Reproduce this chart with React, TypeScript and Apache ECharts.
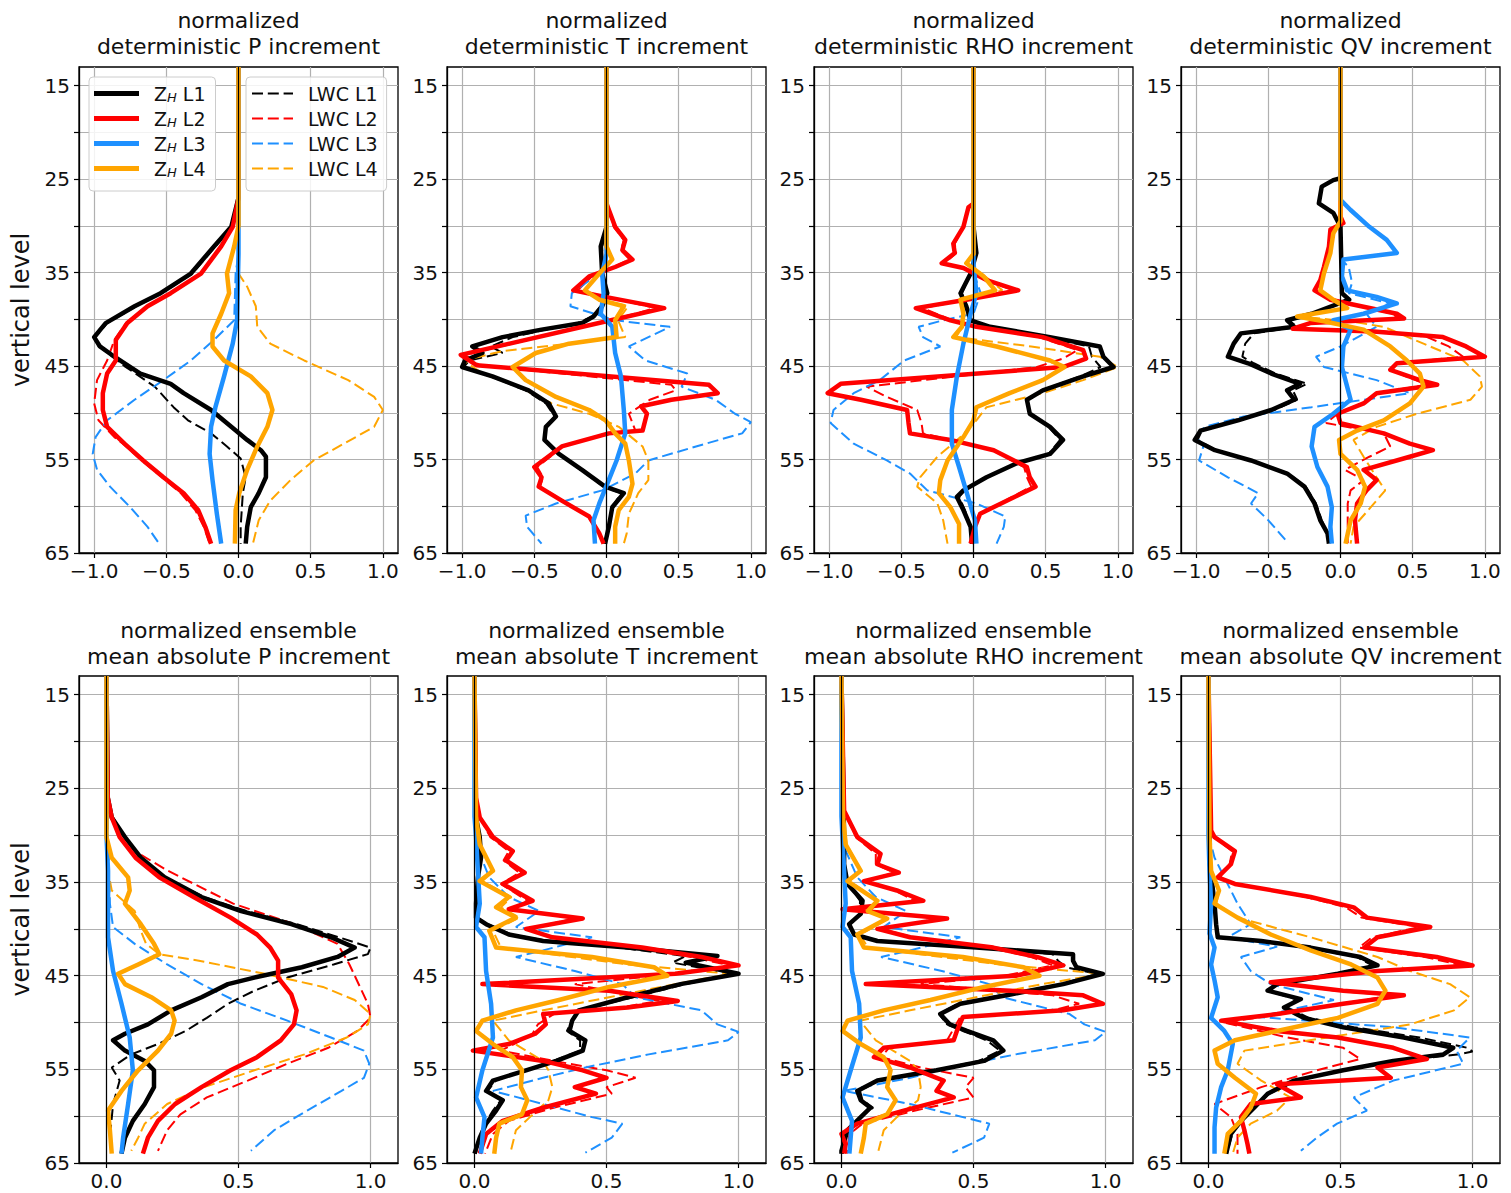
import React, { useEffect, useRef } from 'react';
import * as echarts from 'echarts';

// ---------- tick values ----------
const Y_TICKS = [15, 20, 25, 30, 35, 40, 45, 50, 55, 60, 65];
const Y_LABELS = [15, 25, 35, 45, 55, 65];
const X_TICKS_DET = [-1, -0.5, 0, 0.5, 1];
const X_TICKS_ENS = [0, 0.5, 1];

// ---------- data: [vertical level, normalized value] ----------
// deterministic P increment
const P_DET_ZH1 = [[13,0],[27,0],[30.1,-0.05],[32.2,-0.17],[35.1,-0.33],[37.2,-0.54],[38.6,-0.72],[40.4,-0.92],[41.9,-1.0],[42.9,-0.96],[44,-0.86],[45.8,-0.68],[46.9,-0.47],[47.9,-0.38],[49.7,-0.19],[51.5,-0.05],[52.9,0.06],[54,0.155],[54.7,0.19],[56.9,0.19],[58.6,0.14],[60.1,0.085],[62.2,0.06],[64,0.05]];
const P_DET_ZH2 = [[13,0],[27,0],[30.1,-0.04],[32.2,-0.12],[35.1,-0.26],[37.2,-0.47],[38.6,-0.63],[40.4,-0.77],[42.2,-0.85],[44.4,-0.85],[45.8,-0.91],[47.9,-0.94],[49.7,-0.94],[51.5,-0.91],[53.3,-0.79],[55.1,-0.66],[56.9,-0.52],[58.6,-0.38],[60.4,-0.28],[62.2,-0.23],[64,-0.19]];
const P_DET_ZH3 = [[13,0],[33,0],[40.1,-0.01],[42.6,-0.04],[46.1,-0.1],[49.4,-0.16],[51.5,-0.19],[54.4,-0.2],[57.2,-0.18],[60.8,-0.15],[64,-0.12]];
const P_DET_ZH4 = [[13,0],[30,0],[32.2,-0.03],[35.1,-0.08],[37.2,-0.065],[39.4,-0.12],[41.5,-0.18],[42.9,-0.18],[44.4,-0.1],[46.1,0.085],[47.9,0.2],[49.7,0.235],[51.5,0.2],[53.6,0.13],[56.1,0.06],[58.6,0.005],[60.4,-0.02],[64,-0.025]];
const P_DET_LWC1 = [[13,0],[27,0],[30.1,-0.05],[32.2,-0.16],[35.1,-0.32],[37.2,-0.53],[38.6,-0.71],[40.4,-0.91],[41.9,-0.99],[42.6,-0.99],[45,-0.79],[47.2,-0.58],[49.4,-0.45],[50.8,-0.35],[52.2,-0.19],[53.6,-0.08],[54.9,0.015],[56.9,0.05],[58.6,0.03],[62.2,0.015],[64,0.015]];
const P_DET_LWC2 = [[13,0],[27,0],[30.1,-0.04],[32.2,-0.12],[35.1,-0.26],[37.2,-0.47],[38.6,-0.63],[40.4,-0.78],[42.2,-0.86],[44.4,-0.91],[46.5,-0.98],[49,-1.0],[50.8,-0.97],[52.6,-0.86],[53.3,-0.8],[55.1,-0.67],[56.9,-0.53],[58.6,-0.4],[60.4,-0.3],[62.2,-0.24],[64,-0.2]];
const P_DET_LWC3 = [[13,0],[33,0],[35.1,-0.02],[40.1,-0.03],[42.2,-0.17],[44.4,-0.33],[46.5,-0.52],[48.6,-0.72],[50.8,-0.91],[52.6,-0.99],[54.4,-1.01],[56.1,-0.98],[57.9,-0.89],[60.1,-0.75],[62.2,-0.63],[64,-0.55]];
const P_DET_LWC4 = [[13,0],[33,0],[35.1,0],[36.5,0.06],[38.6,0.12],[40.8,0.13],[42.6,0.22],[44.4,0.455],[46.5,0.76],[48.3,0.94],[49.7,1.0],[51.5,0.94],[53.3,0.73],[55.1,0.52],[57.2,0.36],[59.4,0.22],[61.5,0.14],[64,0.1]];

// deterministic T increment
const T_DET_ZH1 = [[13,0],[30.1,0],[32.2,-0.04],[35.1,-0.03],[37.2,0.005],[38.6,-0.03],[39.7,-0.09],[40.4,-0.17],[41.1,-0.45],[41.9,-0.72],[42.9,-0.93],[43.6,-0.86],[44.4,-0.98],[45.1,-1.0],[46.1,-0.79],[47.6,-0.54],[49,-0.4],[50.4,-0.35],[51.5,-0.42],[52.9,-0.43],[54.4,-0.33],[56.1,-0.17],[57.9,-0.01],[58.6,0.12],[60.1,0.04],[62.2,0.016],[64,-0.01]];
const T_DET_ZH2 = [[13,0],[27.6,0],[30.1,0.06],[31.5,0.13],[32.6,0.11],[33.6,0.18],[34.4,0.06],[35.4,-0.12],[36.9,-0.23],[37.6,-0.01],[38.8,0.4],[40.2,0.0],[43.8,-1.01],[44.9,-0.9],[47,0.71],[47.9,0.77],[48.6,0.45],[49.3,0.24],[50.1,0.28],[51.9,0.25],[52.2,0.016],[53.6,-0.31],[55.8,-0.5],[56.9,-0.45],[57.9,-0.47],[59.4,-0.31],[61.1,-0.12],[62.9,-0.05],[64,-0.02]];
const T_DET_ZH3 = [[13,0],[33,0],[35.1,-0.03],[37.2,-0.02],[39.4,-0.04],[40.8,0.04],[43.6,0.06],[46.1,0.1],[49.7,0.12],[52.2,0.13],[55.1,0.07],[57.6,0.005],[59.7,-0.05],[61.5,-0.09],[64,-0.08]];
const T_DET_ZH4 = [[13,0],[32.2,0],[33.6,0.04],[35.1,-0.05],[36.9,-0.15],[37.9,-0.05],[38.6,0.12],[40.1,0.06],[41.9,0.07],[42.6,-0.26],[43.6,-0.49],[45.1,-0.65],[46.5,-0.56],[48.3,-0.35],[49.7,-0.12],[50.8,-0.007],[52.2,0.06],[53.3,0.13],[55.1,0.155],[57.6,0.18],[59,0.155],[60.4,0.085],[62.2,0.06],[64,0.06]];
const T_DET_LWC1 = [[13,0],[30.1,0],[32.2,-0.03],[35.1,-0.03],[37.2,0.0],[38.6,-0.04],[39.7,-0.1],[40.4,-0.2],[41.1,-0.42],[41.9,-0.65],[42.9,-0.8],[43.6,-0.72],[44.4,-0.95],[45.1,-0.99],[46.1,-0.8],[47.6,-0.56],[49,-0.42],[50.4,-0.36],[51.5,-0.42],[52.9,-0.42],[54.4,-0.33],[56.1,-0.18],[57.9,-0.02],[58.6,0.1],[60.1,0.04],[62.2,0.01],[64,-0.01]];
const T_DET_LWC2 = [[13,0],[27.6,0],[30.1,0.05],[31.5,0.12],[32.6,0.1],[33.6,0.16],[34.4,0.05],[35.4,-0.1],[36.9,-0.2],[37.6,0.0],[38.8,0.34],[40.2,0.0],[43.8,-0.98],[44.9,-0.88],[47,0.45],[47.6,0.48],[48.6,0.3],[50.1,0.155],[51.9,0.2],[52.2,0.0],[53.6,-0.3],[55.8,-0.48],[56.9,-0.44],[57.9,-0.46],[59.4,-0.3],[61.1,-0.12],[62.9,-0.05],[64,-0.02]];
const T_DET_LWC3 = [[13,0],[34,0],[35.4,-0.08],[37.2,-0.24],[38.6,-0.25],[40.1,0.06],[40.8,0.44],[42.9,0.155],[44.4,0.27],[45.8,0.56],[47.2,0.52],[48.6,0.755],[50.1,0.89],[51,1.0],[52.2,0.94],[53.6,0.62],[55.1,0.29],[56.5,0.2],[58.3,-0.03],[59.7,-0.35],[61,-0.56],[62.2,-0.55],[64,-0.45]];
const T_DET_LWC4 = [[13,0],[32.2,0],[33.6,0.04],[35.1,-0.05],[36.9,-0.15],[37.9,-0.04],[38.6,0.15],[40.1,0.08],[41.9,0.13],[43.4,-0.72],[44.4,-0.99],[45.8,-0.86],[47.2,-0.61],[49,-0.38],[50.1,-0.12],[51.5,0.085],[53.6,0.25],[55.1,0.29],[57.2,0.29],[58.6,0.22],[60.8,0.155],[62.9,0.14],[64,0.12]];

// deterministic RHO increment
const R_DET_ZH1 = [[13,0],[30.1,0],[32.9,0.02],[35.1,-0.02],[37.2,-0.09],[38.6,-0.05],[40.1,-0.02],[40.8,0.115],[41.9,0.53],[42.9,0.875],[44,0.9],[45.1,0.97],[46.1,0.76],[47.6,0.48],[48.6,0.37],[50.1,0.39],[51.5,0.53],[52.9,0.62],[54.4,0.53],[55.4,0.3],[56.9,0.09],[58.3,-0.07],[59,-0.115],[60.4,-0.07],[62.2,-0.02],[64,-0.01]];
const R_DET_ZH2 = [[13,0],[27.6,0],[28,-0.035],[30.1,-0.07],[31.9,-0.14],[32.9,-0.13],[34,-0.22],[34.5,-0.07],[35.8,0.09],[36.9,0.31],[37.9,-0.05],[38.8,-0.4],[40.1,-0.16],[40.8,0.02],[41.9,0.48],[43.3,0.76],[44.2,0.78],[45.1,0.62],[46.9,-0.92],[47.9,-1.01],[48.6,-0.78],[49.7,-0.46],[51.1,-0.45],[52.2,-0.44],[52.9,-0.16],[54,0.14],[55.8,0.37],[56.9,0.39],[57.9,0.43],[59.4,0.23],[60.8,0.046],[62.2,0.01],[64,-0.02]];
const R_DET_ZH3 = [[13,0],[34,0],[37.2,0.02],[39.4,-0.02],[42.6,-0.07],[46.1,-0.115],[49.7,-0.15],[53.3,-0.15],[55.8,-0.1],[58.6,-0.046],[61.5,0.01],[64,0.02]];
const R_DET_ZH4 = [[13,0],[33,0],[34,-0.05],[35.4,0.07],[36.9,0.15],[37.9,-0.09],[39.4,-0.07],[40.8,-0.08],[41.9,-0.14],[42.9,0.16],[44.4,0.53],[45.1,0.63],[46.5,0.48],[47.9,0.25],[49.4,0.02],[50.8,0],[52.6,-0.07],[55.1,-0.18],[57.2,-0.23],[58.6,-0.24],[60.1,-0.16],[61.9,-0.1],[64,-0.1]];
const R_DET_LWC1 = [[13,0],[30.1,0],[32.9,0.02],[35.1,-0.02],[37.2,-0.08],[38.6,-0.05],[40.1,-0.02],[40.8,0.1],[41.9,0.5],[42.9,0.8],[44,0.82],[45.1,0.88],[46.1,0.74],[47.6,0.47],[48.6,0.37],[50.1,0.39],[51.5,0.52],[52.9,0.6],[54.4,0.52],[55.4,0.3],[56.9,0.09],[58.3,-0.06],[59,-0.1],[60.4,-0.06],[62.2,-0.02],[64,-0.01]];
const R_DET_LWC2 = [[13,0],[27.6,0],[28,-0.03],[30.1,-0.07],[31.9,-0.13],[32.9,-0.12],[34,-0.2],[34.5,-0.06],[35.8,0.08],[36.9,0.28],[37.9,-0.05],[38.8,-0.35],[40.1,-0.15],[40.8,0.02],[41.9,0.45],[43.3,0.72],[44.2,0.62],[45.1,0.44],[47.2,-0.74],[48.3,-0.6],[49.7,-0.39],[51.1,-0.36],[52.2,-0.35],[52.9,-0.15],[54,0.13],[55.8,0.35],[56.9,0.37],[57.9,0.4],[59.4,0.22],[60.8,0.04],[62.2,0.01],[64,-0.02]];
const R_DET_LWC3 = [[13,0],[35,0],[37.2,0.05],[39.4,0.0],[40.1,-0.21],[40.8,-0.38],[41.9,-0.35],[42.9,-0.23],[44.4,-0.48],[46.5,-0.65],[47.9,-0.83],[49.7,-0.97],[51.1,-0.99],[53.3,-0.83],[55.1,-0.6],[56.5,-0.44],[58.3,-0.32],[59.7,0.02],[61.1,0.22],[62.2,0.21],[64,0.16]];
const R_DET_LWC4 = [[13,0],[33,0],[34,-0.05],[35.4,0.08],[36.9,0.2],[37.9,-0.06],[39.4,-0.07],[40.8,-0.08],[41.9,-0.12],[42.9,0.4],[44,0.875],[45.1,1.0],[46.5,0.76],[47.9,0.48],[49.4,0.09],[50.8,0.02],[52.6,-0.09],[54.7,-0.25],[56.9,-0.37],[57.9,-0.39],[59.7,-0.25],[61.5,-0.21],[64,-0.18]];

// deterministic QV increment
const Q_DET_ZH1 = [[13,0],[24.9,0],[25.1,-0.05],[25.8,-0.13],[27.6,-0.15],[28.6,-0.05],[30.1,0],[37.2,0.01],[37.9,0.06],[39.4,-0.2],[40.1,-0.37],[40.8,-0.32],[41.5,-0.69],[42.6,-0.74],[44,-0.78],[44.7,-0.64],[45.8,-0.48],[46.9,-0.28],[47.6,-0.37],[48.6,-0.32],[49.7,-0.48],[50.8,-0.71],[51.9,-0.97],[52.9,-1.01],[54,-0.87],[55.1,-0.62],[56.5,-0.37],[57.9,-0.25],[59.7,-0.18],[61.5,-0.14],[62.9,-0.09],[64,-0.08]];
const Q_DET_ZH2 = [[13,0],[29,0],[29.7,0.02],[30.4,-0.07],[32.2,-0.08],[34.4,-0.115],[35.8,-0.14],[36.9,-0.18],[37.9,-0.07],[39.4,0.39],[39.9,0.44],[40.4,-0.21],[41,-0.33],[41.3,0.23],[41.9,0.71],[42.9,0.87],[44,1.0],[44.7,0.39],[45.4,0.345],[46.5,0.55],[47,0.67],[47.9,0.25],[49,0.16],[50.1,-0.02],[51.1,0],[52.2,0.3],[53.3,0.48],[54,0.64],[54.7,0.48],[56.1,0.16],[57.2,0.25],[58.3,0.18],[59.7,0.115],[61.5,0.1],[64,0.115]];
const Q_DET_ZH3 = [[13,0],[27.2,0],[28.3,0.07],[30.1,0.2],[31.5,0.32],[32.9,0.39],[33.6,0.02],[35.4,0.01],[36.9,0.046],[37.6,0.25],[38.3,0.39],[39.4,0.16],[40.1,-0.05],[41.1,0.07],[42.9,0.02],[45.1,0.01],[47.2,0.046],[48.6,0.07],[50.1,-0.05],[51.5,-0.18],[53.6,-0.2],[55.8,-0.16],[57.9,-0.09],[60.1,-0.06],[62.2,-0.07],[64,-0.06]];
const Q_DET_ZH4 = [[13,0],[29.5,0],[30.8,-0.05],[32.9,-0.07],[35.1,-0.115],[36.9,-0.14],[37.9,-0.05],[38.8,0.046],[39.7,-0.3],[40.2,-0.115],[41.1,0.16],[42.9,0.345],[44.4,0.46],[45.8,0.55],[47.2,0.575],[49,0.48],[50.8,0.3],[51.9,0.115],[52.9,-0.01],[54.4,0],[56.1,0.115],[57.9,0.17],[59.7,0.14],[61.5,0.07],[64,0.035]];
const Q_DET_LWC1 = [[13,0],[24.9,0],[25.1,-0.05],[25.8,-0.13],[27.6,-0.15],[28.6,-0.05],[30.1,0],[37.2,0.01],[37.9,0.05],[39.4,-0.2],[40.1,-0.36],[40.8,-0.3],[41.5,-0.6],[42.6,-0.66],[44,-0.68],[44.7,-0.6],[45.8,-0.45],[46.9,-0.23],[47.6,-0.33],[48.6,-0.3],[49.7,-0.46],[50.8,-0.7],[51.9,-0.96],[52.9,-0.99],[54,-0.86],[55.1,-0.61],[56.5,-0.36],[57.9,-0.24],[59.7,-0.17],[61.5,-0.13],[62.9,-0.09],[64,-0.08]];
const Q_DET_LWC2 = [[13,0],[29,0],[29.7,0.02],[30.4,-0.06],[32.2,-0.08],[34.4,-0.11],[35.8,-0.13],[36.9,-0.17],[37.9,-0.06],[39.4,0.36],[39.9,0.4],[40.4,-0.2],[41,-0.3],[41.3,0.3],[41.9,0.6],[42.9,0.75],[44,0.85],[44.7,0.39],[45.4,0.34],[46.5,0.52],[47,0.6],[47.9,0.25],[49,0.15],[50.1,-0.02],[51.1,-0.1],[52.2,0.3],[53.6,0.345],[54.7,0.2],[56.1,0.03],[57.2,0.16],[58.3,0.07],[59.7,0.05],[61.5,0.05],[64,0.05]];
const Q_DET_LWC3 = [[13,0],[33.5,0],[34.4,0.057],[36.1,0.08],[37.2,0.057],[38.3,0.345],[39.4,0.18],[40.8,0.25],[42.9,0],[44,-0.17],[45.1,-0.115],[46.5,0.25],[47.9,0.48],[49.4,-0.2],[50.4,-0.67],[51.5,-0.94],[52.6,-1.0],[53.6,-0.95],[55.1,-0.98],[56.9,-0.78],[58.6,-0.57],[59.7,-0.62],[61.5,-0.5],[63.8,-0.37]];
const Q_DET_LWC4 = [[13,0],[29.5,0],[30.8,-0.05],[32.9,-0.07],[35.1,-0.115],[36.9,-0.14],[37.9,-0.05],[38.8,0.046],[39.7,-0.28],[40.3,0.1],[40.8,0.3],[42.6,0.575],[44.4,0.85],[46.1,0.965],[47.2,0.98],[48.6,0.9],[50.1,0.53],[51.5,0.25],[52.9,0.09],[54.7,0.16],[56.9,0.25],[58.3,0.31],[60.1,0.21],[62.2,0.09],[64,0.07]];

// ensemble mean absolute P increment
const P_ENS_ZH1 = [[13,0],[26,0.005],[28.1,0.02],[30.2,0.07],[32.4,0.13],[34.5,0.22],[36.6,0.36],[38.1,0.51],[39.5,0.7],[40.9,0.85],[42,0.94],[43,0.875],[44.1,0.74],[45.2,0.56],[45.9,0.46],[47.3,0.36],[48.7,0.245],[50.2,0.157],[51.2,0.07],[51.9,0.025],[53,0.07],[54.1,0.145],[55.1,0.18],[56.9,0.18],[58.7,0.145],[60.5,0.1],[62.3,0.07],[64,0.057]];
const P_ENS_ZH2 = [[13,0],[26,0.005],[28.1,0.02],[30.2,0.05],[32.4,0.11],[34.5,0.2],[36.6,0.33],[38.8,0.47],[40.6,0.57],[42,0.62],[43.4,0.65],[45.2,0.65],[47,0.7],[48.7,0.72],[50.2,0.71],[51.9,0.66],[53.7,0.57],[55.1,0.47],[56.9,0.36],[58.7,0.26],[60.5,0.195],[62.3,0.157],[64,0.138]];
const P_ENS_ZH3 = [[13,0],[30,0],[33.8,0.006],[40.9,0.006],[44.5,0.025],[48,0.057],[51.6,0.088],[55.1,0.1],[58.7,0.082],[62.3,0.063],[64,0.057]];
const P_ENS_ZH4 = [[13,0],[30.2,0],[32.4,0.02],[34.5,0.082],[35.9,0.088],[37.3,0.07],[39.5,0.13],[41.6,0.18],[42.7,0.2],[43.8,0.12],[44.8,0.044],[45.9,0.07],[47.3,0.17],[48.7,0.245],[49.8,0.258],[51.2,0.245],[53,0.195],[55.1,0.12],[57.3,0.057],[59.4,0.006],[61.5,0.013],[64,0.02]];
const P_ENS_LWC1 = [[13,0],[26,0.005],[28.1,0.02],[30.2,0.07],[32.4,0.13],[34.5,0.22],[36.6,0.37],[38.1,0.53],[39.5,0.72],[40.9,0.88],[42,1.0],[42.7,0.99],[43.8,0.86],[45.2,0.685],[46.6,0.56],[48,0.46],[49.5,0.38],[50.9,0.3],[52.3,0.195],[53.4,0.094],[54.8,0.02],[56.2,0.05],[58.7,0.025],[62.3,0.013],[64,0.02]];
const P_ENS_LWC2 = [[13,0],[26,0.005],[28.1,0.025],[30.2,0.07],[31.7,0.107],[33.8,0.233],[37.3,0.48],[39.5,0.71],[41.6,0.875],[43.8,0.92],[46.2,0.96],[48,0.99],[49.5,1.0],[50.9,0.95],[52.7,0.84],[54.4,0.685],[56.2,0.535],[58,0.38],[59.8,0.28],[61.5,0.23],[63.7,0.195]];
const P_ENS_LWC3 = [[13,0],[31,0.006],[37.3,0.013],[39.8,0.025],[41.6,0.107],[43.8,0.23],[45.9,0.36],[48,0.51],[49.8,0.685],[51.6,0.85],[53,0.975],[54.4,0.995],[55.9,0.975],[57.3,0.89],[59.4,0.76],[61.5,0.635],[63.7,0.547]];
const P_ENS_LWC4 = [[13,0],[31,0.006],[33.8,0.006],[35.9,0.02],[38.1,0.107],[40.2,0.13],[41.6,0.15],[42.7,0.2],[43.4,0.35],[44.8,0.6],[46.2,0.82],[47.6,0.94],[49.1,1.0],[50.2,0.99],[51.6,0.91],[53.4,0.75],[55.1,0.56],[56.9,0.37],[58.7,0.23],[60.8,0.145],[62.3,0.12],[63.7,0.094]];

// ensemble mean absolute T increment
const T_ENS_ZH1 = [[13,0],[28,0.005],[30.2,0.02],[32.4,0.025],[34.5,0.013],[37.3,0.006],[38.8,0.006],[39.5,0.044],[40.6,0.13],[41.3,0.26],[42,0.58],[42.9,0.92],[43.6,0.8],[44.8,1.0],[45.9,0.78],[47.3,0.58],[48.7,0.395],[49.8,0.37],[50.9,0.36],[51.9,0.42],[53,0.41],[54.1,0.31],[55.1,0.195],[56.2,0.07],[57.3,0.044],[58.3,0.107],[59.4,0.082],[60.8,0.044],[62.3,0.02],[64,0]];
const T_ENS_ZH2 = [[13,0],[26,0.006],[28.1,0.02],[30.2,0.07],[31.7,0.145],[32.7,0.12],[34,0.19],[35.2,0.107],[37,0.22],[37.9,0.13],[38.9,0.41],[40,0.195],[40.9,0.295],[42,0.635],[43,0.86],[43.9,1.0],[44.8,0.76],[45.9,0.03],[46.6,0.51],[47.7,0.77],[48.4,0.58],[49.1,0.26],[50.2,0.27],[51.2,0.23],[52.3,0.13],[53,-0.006],[54.1,0.26],[55.1,0.41],[55.9,0.5],[56.9,0.38],[57.6,0.46],[59.1,0.26],[60.5,0.107],[61.9,0.044],[64,0.02]];
const T_ENS_ZH3 = [[13,0],[28,0],[30.2,0.006],[33.8,0.013],[37.3,0.02],[39.8,0.006],[40.9,0.038],[44.5,0.044],[48,0.063],[51.6,0.07],[55.1,0.03],[58,0.006],[60.1,0.038],[62.3,0.03],[64,0.025]];
const T_ENS_ZH4 = [[13,0],[28,0.006],[31,0.02],[33.8,0.07],[34.9,0.02],[36.6,0.13],[37.7,0.082],[38.8,0.157],[40.2,0.056],[42,0.082],[43,0.445],[44.1,0.68],[45,0.73],[46.2,0.51],[47.6,0.32],[48.7,0.157],[49.8,0.03],[50.9,0.006],[52.3,0.07],[53.7,0.145],[55.1,0.18],[56.9,0.176],[58.3,0.2],[59.8,0.18],[60.8,0.094],[62.3,0.082],[64,0.075]];
const T_ENS_LWC1 = [[13,0],[28,0.005],[30.2,0.02],[32.4,0.025],[34.5,0.015],[37.3,0.008],[38.8,0.01],[39.5,0.05],[40.6,0.14],[41.3,0.28],[42,0.55],[42.9,0.8],[43.6,0.75],[44.8,0.98],[45.9,0.8],[47.3,0.6],[48.7,0.4],[49.8,0.37],[50.9,0.35],[51.9,0.4],[53,0.4],[54.1,0.3],[55.1,0.19],[56.2,0.08],[57.3,0.05],[58.3,0.1],[59.4,0.07],[60.8,0.04],[62.3,0.02],[64,0.005]];
const T_ENS_LWC2 = [[13,0],[26,0.006],[28.1,0.02],[30.2,0.06],[31.7,0.13],[32.7,0.11],[34,0.17],[35.2,0.1],[37,0.2],[37.9,0.15],[38.9,0.38],[40,0.2],[40.9,0.3],[42,0.6],[43,0.82],[43.9,0.97],[44.8,0.76],[45.9,0.38],[46.6,0.5],[47.7,0.7],[48.4,0.55],[49.1,0.3],[50.2,0.24],[51.2,0.22],[52.3,0.15],[53,0.1],[54.1,0.3],[55.1,0.5],[55.9,0.61],[56.9,0.5],[57.6,0.52],[59.1,0.3],[60.5,0.13],[61.9,0.07],[64,0.04]];
const T_ENS_LWC3 = [[13,0],[31,0.006],[34.5,0.056],[36.6,0.13],[38.1,0.245],[39.8,0.157],[40.9,0.445],[42.3,0.26],[43,0.157],[44.5,0.38],[45.9,0.56],[47.3,0.61],[48.7,0.86],[50.2,0.92],[51,1.0],[51.9,0.96],[53.4,0.66],[54.8,0.42],[55.9,0.26],[57.3,0.07],[58.7,0.26],[60.1,0.445],[60.8,0.56],[62.3,0.52],[63.9,0.42]];
const T_ENS_LWC4 = [[13,0],[28,0.006],[31,0.02],[33.8,0.07],[34.9,0.03],[36.6,0.14],[37.7,0.1],[38.8,0.17],[40.2,0.07],[42,0.1],[43.8,0.58],[44.8,0.97],[45.9,0.76],[47.3,0.51],[48.7,0.26],[49.8,0.07],[51.9,0.13],[54.1,0.26],[55.1,0.28],[56.9,0.295],[58.3,0.28],[60.1,0.21],[61.5,0.157],[63.7,0.138]];

// ensemble mean absolute RHO increment
const R_ENS_ZH1 = [[13,0],[30.2,0.01],[33.1,0.01],[35.2,0.023],[37,0.08],[38.4,0.073],[39.5,0.029],[40.6,0.048],[41.3,0.136],[42,0.51],[42.7,0.877],[43.4,0.877],[44.1,0.89],[44.8,0.99],[45.9,0.84],[47,0.64],[48,0.45],[49.1,0.374],[50.2,0.41],[50.9,0.475],[51.9,0.575],[53,0.613],[54.1,0.54],[55.1,0.36],[56.2,0.136],[57.3,0.06],[58.3,0.073],[59.1,0.11],[60.1,0.073],[61.5,0.023],[63.7,0],[64,0]];
const R_ENS_ZH2 = [[13,0],[27.4,0.01],[30.2,0.06],[32,0.148],[33.1,0.136],[34,0.217],[34.9,0.085],[35.9,0.21],[37,0.31],[37.9,0.004],[38.9,0.4],[40,0.136],[40.9,0.26],[42,0.575],[43,0.74],[43.9,0.84],[45,0.66],[45.9,0.092],[46.6,0.64],[47.1,0.915],[48,0.99],[48.7,0.84],[49.4,0.46],[50.9,0.437],[51.9,0.425],[52.7,0.16],[53.7,0.123],[54.8,0.26],[56.2,0.387],[57.3,0.36],[58,0.425],[59.4,0.236],[60.8,0.06],[61.9,0],[63,0.016],[64,0.01]];
const R_ENS_ZH3 = [[13,0],[28,0],[33.8,0.01],[37.3,0.016],[39.8,0.004],[40.9,0.035],[44.5,0.04],[48,0.067],[51.6,0.073],[55.1,0.035],[58,0.004],[60.5,0.04],[64,0.03]];
const R_ENS_ZH4 = [[13,0],[28,0.006],[31,0.016],[33.8,0.073],[34.9,0.023],[37,0.136],[38.1,0.1],[38.9,0.173],[40.6,0.06],[42,0.085],[43,0.46],[44.1,0.69],[45,0.75],[46.2,0.54],[47.6,0.337],[48.7,0.16],[49.8,0.023],[50.9,0.004],[52.3,0.073],[53.7,0.16],[55.1,0.186],[56.9,0.173],[58.3,0.205],[59.8,0.173],[60.8,0.092],[62.3,0.085],[64,0.073]];
const R_ENS_LWC1 = [[13,0],[30.2,0.01],[33.1,0.012],[35.2,0.025],[37,0.07],[38.4,0.07],[39.5,0.03],[40.6,0.05],[41.3,0.15],[42,0.5],[42.7,0.8],[43.4,0.82],[44.1,0.85],[44.8,0.97],[45.9,0.83],[47,0.62],[48,0.44],[49.1,0.37],[50.2,0.4],[50.9,0.46],[51.9,0.55],[53,0.6],[54.1,0.52],[55.1,0.35],[56.2,0.14],[57.3,0.07],[58.3,0.08],[59.1,0.12],[60.1,0.07],[61.5,0.02],[64,0.005]];
const R_ENS_LWC2 = [[13,0],[27.4,0.01],[30.2,0.055],[32,0.13],[33.1,0.13],[34,0.2],[34.9,0.09],[35.9,0.2],[37,0.28],[37.9,0.05],[38.9,0.38],[40,0.15],[40.9,0.27],[42,0.56],[43,0.72],[43.9,0.8],[45,0.62],[45.9,0.3],[46.6,0.6],[47.1,0.8],[48,0.9],[48.7,0.8],[49.4,0.45],[50.9,0.42],[51.9,0.4],[52.7,0.18],[53.7,0.15],[54.8,0.3],[55.9,0.5],[56.9,0.47],[58,0.5],[59.4,0.28],[60.8,0.08],[61.9,0.03],[64,0.02]];
const R_ENS_LWC3 = [[13,0],[31,0.006],[34.5,0.06],[36.6,0.13],[38.1,0.245],[39.8,0.16],[40.9,0.45],[42.3,0.26],[43,0.15],[44.5,0.38],[45.9,0.56],[47.3,0.61],[49.1,0.864],[50.2,0.92],[51,1.0],[51.9,0.96],[53.4,0.66],[54.8,0.42],[55.9,0.26],[57.3,0.01],[58.7,0.26],[60.8,0.56],[62.3,0.54],[63.9,0.42]];
const R_ENS_LWC4 = [[13,0],[28,0.006],[31,0.02],[33.8,0.075],[34.9,0.03],[37,0.14],[38.1,0.11],[38.9,0.18],[40.6,0.07],[42,0.1],[43.8,0.6],[44.8,0.99],[45.9,0.76],[47.3,0.51],[48.7,0.26],[49.8,0.07],[51.9,0.13],[54.1,0.26],[55.1,0.29],[56.9,0.3],[58.3,0.29],[60.1,0.21],[61.5,0.16],[63.7,0.14]];

// ensemble mean absolute QV increment
const Q_ENS_ZH1 = [[13,0],[33,0.005],[37.3,0.023],[39.5,0.029],[40.9,0.035],[41.3,0.2],[42,0.387],[43,0.575],[43.9,0.64],[44.8,0.49],[45.9,0.26],[46.6,0.224],[47.5,0.35],[48.4,0.286],[49.5,0.36],[50.5,0.51],[51.6,0.74],[52.7,0.927],[53.4,0.89],[54.1,0.7],[55.1,0.51],[56.2,0.324],[57.6,0.224],[59.1,0.173],[60.5,0.123],[61.9,0.085],[64,0.067]];
const Q_ENS_ZH2 = [[13,0],[29.5,0.01],[30.2,0.023],[31.7,0.1],[33.1,0.085],[34.5,0.035],[35.2,0.1],[36.6,0.387],[37.7,0.55],[38.8,0.6],[39.8,0.84],[40.9,0.64],[42,0.59],[43,0.864],[43.9,1.0],[44.5,0.64],[45.7,0.236],[46.6,0.51],[47.1,0.74],[48,0.51],[49.1,0.26],[49.8,0.048],[50.9,0.26],[51.6,0.49],[52.7,0.7],[53.9,0.827],[54.8,0.64],[55.9,0.69],[56.6,0.26],[58,0.35],[58.7,0.16],[60.1,0.123],[61.5,0.136],[63,0.148],[64,0.155]];
const Q_ENS_ZH3 = [[13,0],[30,0],[33.8,0.004],[37.3,0.01],[40.5,0.004],[42,0.023],[43.8,0.01],[45.5,0.023],[47.3,0.035],[49.5,0.01],[50.9,0.06],[52.3,0.092],[55.1,0.073],[56.9,0.048],[59.1,0.029],[61.2,0.023],[64,0.023]];
const Q_ENS_ZH4 = [[13,0],[30.2,0.004],[33.8,0.01],[35.9,0.04],[37.3,0.023],[38.8,0.11],[40.6,0.236],[42.3,0.387],[43.8,0.54],[45.2,0.64],[46.6,0.67],[48,0.64],[49.5,0.49],[50.9,0.26],[51.9,0.1],[53,0.023],[54.4,0.035],[55.9,0.1],[57.6,0.18],[59.1,0.16],[60.5,0.123],[61.9,0.073],[64,0.06]];
const Q_ENS_LWC1 = [[13,0],[33,0.005],[37.3,0.023],[39.5,0.03],[40.9,0.04],[41.3,0.19],[42,0.37],[43,0.56],[43.9,0.62],[44.8,0.48],[45.9,0.27],[46.6,0.22],[47.5,0.33],[48.4,0.3],[49.5,0.38],[50.5,0.55],[51.6,0.8],[52.7,0.98],[53.1,1.0],[53.4,0.95],[54.1,0.72],[55.1,0.5],[56.2,0.33],[57.6,0.23],[59.1,0.17],[60.5,0.12],[61.9,0.09],[64,0.07]];
const Q_ENS_LWC2 = [[13,0],[29.5,0.01],[30.2,0.02],[31.7,0.09],[33.1,0.08],[34.5,0.04],[35.2,0.1],[36.6,0.37],[37.7,0.52],[38.8,0.58],[39.8,0.8],[40.9,0.62],[42,0.57],[43,0.82],[43.9,0.96],[44.5,0.62],[45.7,0.25],[46.6,0.48],[47.1,0.7],[48,0.5],[49.1,0.28],[50,0.06],[51.6,0.3],[52.7,0.51],[53.9,0.575],[55.1,0.41],[56.9,0.2],[58.7,0.023],[60.1,0.085],[61.9,0.11],[64,0.11]];
const Q_ENS_LWC3 = [[13,0],[31,0.01],[32.4,0.023],[34.5,0.06],[37.3,0.11],[39.5,0.16],[40.9,0.073],[41.9,0.26],[43,0.123],[44.5,0.16],[45.9,0.236],[47.6,0.475],[49.4,0.186],[50.5,0.7],[51.6,0.99],[53,0.94],[54.4,0.965],[56.2,0.7],[58,0.55],[59.4,0.6],[60.8,0.487],[62.3,0.41],[63.7,0.35]];
const Q_ENS_LWC4 = [[13,0],[30.2,0.004],[33.8,0.01],[35.9,0.04],[37.3,0.03],[38.8,0.11],[40.9,0.387],[43,0.64],[44.5,0.764],[45.9,0.915],[47.3,0.99],[48.7,0.93],[50.2,0.764],[51.6,0.45],[53,0.136],[54.4,0.11],[56.2,0.2],[58,0.31],[59.4,0.26],[60.8,0.16],[62.3,0.11],[64,0.092]];

// ---------- panel definitions ----------
const PANELS = [
  { title: 'normalized\ndeterministic P increment', ens: false, zh: [P_DET_ZH1, P_DET_ZH2, P_DET_ZH3, P_DET_ZH4], lwc: [P_DET_LWC1, P_DET_LWC2, P_DET_LWC3, P_DET_LWC4] },
  { title: 'normalized\ndeterministic T increment', ens: false, zh: [T_DET_ZH1, T_DET_ZH2, T_DET_ZH3, T_DET_ZH4], lwc: [T_DET_LWC1, T_DET_LWC2, T_DET_LWC3, T_DET_LWC4] },
  { title: 'normalized\ndeterministic RHO increment', ens: false, zh: [R_DET_ZH1, R_DET_ZH2, R_DET_ZH3, R_DET_ZH4], lwc: [R_DET_LWC1, R_DET_LWC2, R_DET_LWC3, R_DET_LWC4] },
  { title: 'normalized\ndeterministic QV increment', ens: false, zh: [Q_DET_ZH1, Q_DET_ZH2, Q_DET_ZH3, Q_DET_ZH4], lwc: [Q_DET_LWC1, Q_DET_LWC2, Q_DET_LWC3, Q_DET_LWC4] },
  { title: 'normalized ensemble\nmean absolute P increment', ens: true, zh: [P_ENS_ZH1, P_ENS_ZH2, P_ENS_ZH3, P_ENS_ZH4], lwc: [P_ENS_LWC1, P_ENS_LWC2, P_ENS_LWC3, P_ENS_LWC4] },
  { title: 'normalized ensemble\nmean absolute T increment', ens: true, zh: [T_ENS_ZH1, T_ENS_ZH2, T_ENS_ZH3, T_ENS_ZH4], lwc: [T_ENS_LWC1, T_ENS_LWC2, T_ENS_LWC3, T_ENS_LWC4] },
  { title: 'normalized ensemble\nmean absolute RHO increment', ens: true, zh: [R_ENS_ZH1, R_ENS_ZH2, R_ENS_ZH3, R_ENS_ZH4], lwc: [R_ENS_LWC1, R_ENS_LWC2, R_ENS_LWC3, R_ENS_LWC4] },
  { title: 'normalized ensemble\nmean absolute QV increment', ens: true, zh: [Q_ENS_ZH1, Q_ENS_ZH2, Q_ENS_ZH3, Q_ENS_ZH4], lwc: [Q_ENS_LWC1, Q_ENS_LWC2, Q_ENS_LWC3, Q_ENS_LWC4] },
];

const ZH_NAMES = ['ZH L1', 'ZH L2', 'ZH L3', 'ZH L4'];
const LWC_NAMES = ['LWC L1', 'LWC L2', 'LWC L3', 'LWC L4'];
const COLORS = ['#000000', '#ff0000', '#1e90ff', '#ffa500'];

// ---------- layout ----------
const FONT = 'DejaVu Sans';
const TEXT = '#111111';
const GRID_LEFT = [79, 447, 814, 1181];
const GRID_TOP = [67, 676];
const GRID_W = 319;
const GRID_H = [486, 487];
const TITLE_TOP = [7, 617];
// legend handle shapes (solid bar, dashed bar)
const SOLID_ICON = 'rect';
const DASHED_ICON = 'path://M0 0h11v2H0z M15.8 0h11v2H15.8z M31.6 0h9.4v2H31.6z';

function fmtTick(v: number): string {
  const s = Math.abs(v).toFixed(1);
  return v < 0 ? '\u2212' + s : s;
}

function buildOption() {
  const grid: any[] = [];
  const xAxis: any[] = [];
  const yAxis: any[] = [];
  const series: any[] = [];
  const title: any[] = [];

  PANELS.forEach((p, i) => {
    const row = i < 4 ? 0 : 1;
    const col = i % 4;
    grid.push({
      left: GRID_LEFT[col], top: GRID_TOP[row], width: GRID_W, height: GRID_H[row],
      show: true, borderColor: '#000', borderWidth: 1.3, backgroundColor: 'transparent', containLabel: false,
    });
    const xt = p.ens ? X_TICKS_ENS : X_TICKS_DET;
    xAxis.push({
      type: 'value', gridIndex: i,
      min: p.ens ? -0.104 : -1.105, max: p.ens ? 1.104 : 1.105,
      axisLine: { show: true, onZero: false, lineStyle: { color: '#000', width: 1.3 } },
      axisTick: { show: true, customValues: xt, length: 5, lineStyle: { color: '#000', width: 1.2 } },
      axisLabel: { customValues: xt, formatter: (v: number) => fmtTick(v), fontSize: 20, color: TEXT, fontFamily: FONT, margin: 8 },
      splitLine: { show: true, lineStyle: { color: '#b0b0b0', width: 1.2 } },
    });
    yAxis.push({
      type: 'value', gridIndex: i, min: 13, max: 65, inverse: true,
      axisLine: { show: true, onZero: false, lineStyle: { color: '#000', width: 1.3 } },
      axisTick: { show: true, customValues: Y_TICKS, length: 5, lineStyle: { color: '#000', width: 1.2 } },
      axisLabel: { customValues: Y_LABELS, fontSize: 20, color: TEXT, fontFamily: FONT, margin: 9 },
      splitLine: { show: true, lineStyle: { color: '#b0b0b0', width: 1.2 } },
      name: col === 0 ? 'vertical level' : '',
      nameLocation: 'middle', nameGap: 46,
      nameTextStyle: { fontSize: 24, color: TEXT, fontFamily: FONT },
    });
    title.push({
      text: p.title, left: GRID_LEFT[col] + GRID_W / 2, top: TITLE_TOP[row], textAlign: 'center', padding: 0,
      textStyle: { fontSize: 22, fontWeight: 'normal', color: TEXT, fontFamily: FONT, lineHeight: 26 },
    });

    p.lwc.forEach((arr, k) => {
      series.push({
        type: 'line', name: LWC_NAMES[k], xAxisIndex: i, yAxisIndex: i,
        data: arr.map(([lvl, v]) => [v, lvl]),
        symbol: 'none', showSymbol: false, animation: false,
        emphasis: { disabled: true },
        lineStyle: { color: COLORS[k], width: 2, type: [11, 4.8] },
        itemStyle: { color: COLORS[k] },
        markLine: k === 0 ? {
          silent: true, symbol: ['none', 'none'], animation: false,
          label: { show: false },
          lineStyle: { color: '#000', width: 1.2, type: 'solid' },
          data: [{ xAxis: 0 }],
        } : undefined,
      });
    });
    p.zh.forEach((arr, k) => {
      series.push({
        type: 'line', name: ZH_NAMES[k], xAxisIndex: i, yAxisIndex: i,
        data: arr.map(([lvl, v]) => [v, lvl]),
        symbol: 'none', showSymbol: false, animation: false,
        emphasis: { disabled: true },
        lineStyle: { color: COLORS[k], width: 4.5, type: 'solid', cap: 'butt', join: 'round' },
        itemStyle: { color: COLORS[k] },
      });
    });
  });

  const legendBase = {
    orient: 'vertical', itemGap: 4, selectedMode: false,
    backgroundColor: 'rgba(255,255,255,0.85)', borderColor: '#cccccc', borderWidth: 1, borderRadius: 4,
    itemStyle: { borderWidth: 0 },
  };

  return {
    animation: false,
    backgroundColor: '#ffffff',
    title,
    grid, xAxis, yAxis, series,
    legend: [
      {
        ...legendBase,
        left: 89, top: 77, itemWidth: 45, itemHeight: 5, padding: [6, 10, 12, 5],
        icon: SOLID_ICON,
        data: ZH_NAMES,
        formatter: (name: string) => 'Z{sub|H}' + name.slice(2),
        textStyle: {
          fontSize: 19, color: TEXT, fontFamily: FONT, lineHeight: 21, padding: [0, 0, 0, 10],
          rich: { sub: { fontSize: 13, fontStyle: 'italic', fontFamily: FONT, color: TEXT, padding: [7, 0, 0, 0] } },
        },
      },
      {
        ...legendBase,
        left: 246, top: 77, itemWidth: 41, itemHeight: 2, padding: [6, 9, 12, 6],
        icon: DASHED_ICON,
        data: LWC_NAMES,
        textStyle: { fontSize: 19, color: TEXT, fontFamily: FONT, lineHeight: 21, padding: [0, 0, 0, 10] },
      },
    ],
  };
}

export default function App() {
  const ref = useRef<HTMLDivElement>(null);
  useEffect(() => {
    if (!ref.current) return;
    const chart = echarts.init(ref.current, undefined, { renderer: 'svg', width: 1511, height: 1193 });
    chart.setOption(buildOption() as any);
    return () => chart.dispose();
  }, []);
  return (
    <div
      ref={ref}
      style={{ position: 'absolute', left: 0, top: 0, width: 1511, height: 1193, background: '#ffffff' }}
    />
  );
}
